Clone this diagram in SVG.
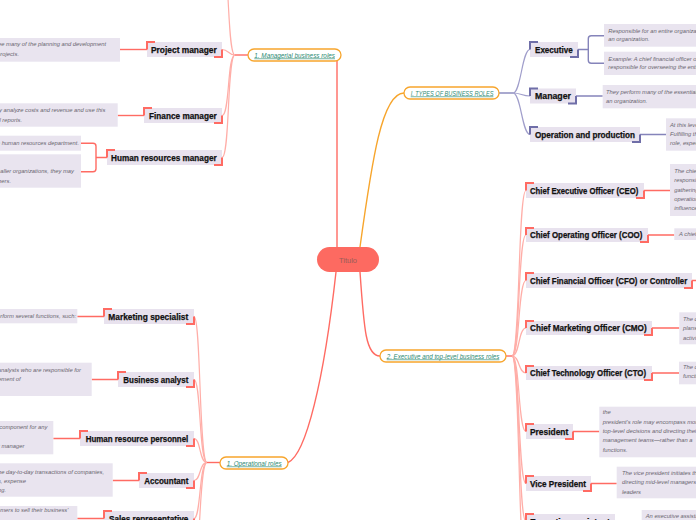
<svg xmlns="http://www.w3.org/2000/svg" width="696" height="520" viewBox="0 0 696 520">
<style>
.nb{fill:#e8e2ee}
.db{fill:#e9e4ef}
.nt{font-family:"Liberation Sans",Arial,sans-serif;font-weight:700;font-size:8.4px;fill:#111;stroke:#111;stroke-width:0.25}
.dt{font-family:"Liberation Sans",Arial,sans-serif;font-style:italic;font-size:5.8px;fill:#6a6670}
.dte{font-family:"Liberation Sans",Arial,sans-serif;font-style:italic;font-size:5.8px;fill:#6a6670;text-anchor:end}
.br{fill:none;stroke:#ff6b63;stroke-width:2}
.bp{fill:none;stroke:#6f6ea8;stroke-width:2}
.fr{fill:none;stroke:#ffaea8;stroke-width:1.2}
.fp{fill:none;stroke:#a09ecb;stroke-width:1.2}
.lr{fill:none;stroke:#ff6b63;stroke-width:1.4}
.lp{fill:none;stroke:#8584ba;stroke-width:1.4}
.lo{fill:none;stroke:#f7a52c;stroke-width:1.4}
.pill{fill:#fff;stroke:#f7a52c;stroke-width:1.3}
.pt{font-family:"Liberation Sans",Arial,sans-serif;font-style:italic;font-size:6.5px;fill:#2e8b74;text-decoration:underline}
</style>
<rect width="696" height="520" fill="#fff"/>
<g id="connectors">
<path class="lr" d="M337,247 V61"/>
<path class="lo" d="M360,247 C372,160 382,93 404,93"/>
<path class="lr" d="M336,272 C324,380 306,455 288,462.5"/>
<path class="lr" d="M360,272 C364,330 366,356 380,356"/>
<path class="lr" d="M248,55 H235"/>
<path class="fr" d="M235,55 C228,55 229,49.5 222,49.5"/>
<path class="fr" d="M235,55 C227,55 230,115.5 222,115.5"/>
<path class="fr" d="M235,55 C227,55 230,157.5 222,157.5"/>
<path class="fr" d="M235,55 C227,55 230,-40 222,-40"/>
<path class="lr" d="M120,49.5 H147"/>
<path class="lr" d="M117.7,115.5 H144"/>
<path class="lr" d="M81,143.3 H93 Q96,143.3 96,146.3 V168.7 Q96,171.7 93,171.7 H81 M96,157.5 H107"/>
<path class="lr" d="M220,462.5 H207"/>
<path class="fr" d="M207,462.5 C199,462.5 201,316.5 194,316.5"/>
<path class="fr" d="M207,462.5 C199,462.5 201,379.5 194,379.5"/>
<path class="fr" d="M207,462.5 C199,462.5 201,438.5 194,438.5"/>
<path class="fr" d="M207,462.5 C199,462.5 201,480.5 194,480.5"/>
<path class="fr" d="M207,462.5 C199,462.5 201,518.5 194,518.5"/>
<path class="fr" d="M207,462.5 C199,462.5 201,560 194,560"/>
<path class="lr" d="M77.3,316.5 H104 M91.7,379.5 H118 M53.3,438.5 H80 M112.7,480.5 H139 M77.3,518.5 H104"/>
<path class="lr" d="M506,356 H512"/>
<path class="fr" d="M512,356 C520,356 518,190.5 526,190.5"/>
<path class="fr" d="M512,356 C520,356 518,235 526,235"/>
<path class="fr" d="M512,356 C520,356 518,280.5 526,280.5"/>
<path class="fr" d="M512,356 C520,356 518,328 526,328"/>
<path class="fr" d="M512,356 C520,356 518,373 526,373"/>
<path class="fr" d="M512,356 C520,356 518,431.5 526,431.5"/>
<path class="fr" d="M512,356 C520,356 518,483.5 526,483.5"/>
<path class="fr" d="M512,356 C520,356 518,521.5 526,521.5"/>
<path class="fr" d="M512,356 C520,356 518,570 526,570"/>
<path class="lr" d="M644,190.5 H670 M648,235 H674.3 M692,280.5 H700 M652,328 H679.3 M652,373 H679 M573,431.5 H599.3 M591,483.5 H616.7 M615,521.5 H641.7"/>
<path class="lp" d="M499,93 H513"/>
<path class="fp" d="M513,93 C521,93 522,49.5 530,49.5"/>
<path class="fp" d="M513,93 C521,93 522,96 530,96"/>
<path class="fp" d="M513,93 C521,93 522,134.5 530,134.5"/>
<path class="lp" d="M578,49.5 H588.3 M604,35.7 H591.3 Q588.3,35.7 588.3,38.7 V60.3 Q588.3,63.3 591.3,63.3 H604"/>
<path class="lp" d="M576,96 H602.7 M640,134.5 H666"/>
</g>
<g id="titulo">
<rect x="317" y="247" width="62" height="25" rx="12.5" fill="#fd6a61"/>
<text x="348" y="262.5" text-anchor="middle" font-family="'Liberation Sans',Arial,sans-serif" font-size="7.5" fill="#9a5c58">Titulo</text>
</g>
<g id="managerial">
<rect class="pill" x="248" y="49" width="93" height="12" rx="6"/>
<text class="pt" x="254.3" y="57.5" textLength="80.7" lengthAdjust="spacingAndGlyphs">1.  Managerial business roles</text>
</g>
<g id="types">
<rect class="pill" x="404" y="87" width="95" height="12" rx="6"/>
<text class="pt" x="410.7" y="95.5" textLength="82.7" lengthAdjust="spacingAndGlyphs">I.  TYPES OF BUSINESS ROLES</text>
</g>
<g id="operational">
<rect class="pill" x="220" y="457" width="68" height="12" rx="6"/>
<text class="pt" x="226.7" y="465.5" textLength="55" lengthAdjust="spacingAndGlyphs">1.  Operational roles</text>
</g>
<g id="executive-roles">
<rect class="pill" x="380" y="350" width="126" height="12" rx="6"/>
<text class="pt" x="386.7" y="358.5" textLength="112.7" lengthAdjust="spacingAndGlyphs">2.  Executive and top-level business roles</text>
</g>
<g id="project-manager">
<rect class="nb" x="147" y="42" width="75" height="15"/>
<text class="nt" x="151" y="52.5" textLength="65.7" lengthAdjust="spacingAndGlyphs">Project manager</text>
<path class="br" d="M147,49.5 V42 H155 M222,49.5 V57 H214"/>
</g>
<g id="project-manager-note">
<rect class="db" x="-10" y="38" width="130" height="23.7"/>
<text class="dte" x="106" y="46">Project managers oversee many of the planning and development</text>
<text class="dte" x="19" y="56">tasks for projects.</text>
</g>
<g id="finance-manager">
<rect class="nb" x="144" y="108" width="78" height="15"/>
<text class="nt" x="149" y="118.5" textLength="67.7" lengthAdjust="spacingAndGlyphs">Finance manager</text>
<path class="br" d="M144,115.5 V108 H152 M222,115.5 V123 H214"/>
</g>
<g id="finance-manager-note">
<rect class="db" x="-10" y="103.3" width="127.7" height="23.4"/>
<text class="dte" x="105.3" y="112">Finance managers typically analyze costs and revenue and use this</text>
<text class="dte" x="22" y="122">data to create financial reports.</text>
</g>
<g id="hr-manager">
<rect class="nb" x="107" y="150" width="115" height="15"/>
<text class="nt" x="111" y="160.5" textLength="105.7" lengthAdjust="spacingAndGlyphs">Human resources manager</text>
<path class="br" d="M107,157.5 V150 H115 M222,157.5 V165 H214"/>
</g>
<g id="hr-manager-note-1">
<rect class="db" x="-10" y="135.7" width="91" height="15"/>
<text class="dte" x="79" y="145">They lead the human resources department.</text>
</g>
<g id="hr-manager-note-2">
<rect class="db" x="-10" y="154.3" width="91" height="33.4"/>
<text class="dte" x="74" y="173">In smaller organizations, they may</text>
<text class="dte" x="11" y="183">and work with others.</text>
</g>
<g id="marketing-specialist">
<rect class="nb" x="104" y="309" width="90" height="15"/>
<text class="nt" x="108.3" y="319.5" textLength="80" lengthAdjust="spacingAndGlyphs">Marketing specialist</text>
<path class="br" d="M104,316.5 V309 H112 M194,316.5 V324 H186"/>
</g>
<g id="marketing-specialist-note">
<rect class="db" x="-10" y="309" width="87.3" height="14.3"/>
<text class="dte" x="76" y="317.5">Marketing specialists perform several functions, such:</text>
</g>
<g id="business-analyst">
<rect class="nb" x="118" y="372" width="76" height="15"/>
<text class="nt" x="123.3" y="382.5" textLength="65" lengthAdjust="spacingAndGlyphs">Business analyst</text>
<path class="br" d="M118,379.5 V372 H126 M194,379.5 V387 H186"/>
</g>
<g id="business-analyst-note">
<rect class="db" x="-10" y="362.7" width="101.7" height="33.3"/>
<text class="dte" x="81" y="372">Business analysts are analysts who are responsible for</text>
<text class="dte" x="20.7" y="381.3">the improvement of</text>
</g>
<g id="hr-personnel">
<rect class="nb" x="80" y="431" width="114" height="15"/>
<text class="nt" x="85.7" y="441.5" textLength="102.6" lengthAdjust="spacingAndGlyphs">Human resource personnel</text>
<path class="br" d="M80,438.5 V431 H88 M194,438.5 V446 H186"/>
</g>
<g id="hr-personnel-note">
<rect class="db" x="-10" y="421" width="63.3" height="33.3"/>
<text class="dte" x="47.3" y="428.7">Human resources is an important component for any</text>
<text class="dte" x="24.3" y="448">a human resources department manager</text>
</g>
<g id="accountant">
<rect class="nb" x="139" y="473" width="55" height="15"/>
<text class="nt" x="144.3" y="483.5" textLength="44" lengthAdjust="spacingAndGlyphs">Accountant</text>
<path class="br" d="M139,480.5 V473 H147 M194,480.5 V488 H186"/>
</g>
<g id="accountant-note">
<rect class="db" x="-10" y="463.3" width="122.7" height="33.4"/>
<text class="dte" x="104" y="473.7">Accountants handle the day-to-day transactions of companies,</text>
<text class="dte" x="26" y="482.7">such as payroll, taxes, expense</text>
<text class="dte" x="6" y="492">reports and bookkeeping.</text>
</g>
<g id="sales-representative">
<rect class="nb" x="104" y="511" width="90" height="15"/>
<text class="nt" x="109" y="521.5" textLength="79.3" lengthAdjust="spacingAndGlyphs">Sales representative</text>
<path class="br" d="M104,518.5 V511 H112 M194,518.5 V526 H186"/>
</g>
<g id="sales-representative-note">
<rect class="db" x="-10" y="506" width="87.3" height="30"/>
<text class="dte" x="68.3" y="512">Sales reps work with customers to sell their business'</text>
</g>
<g id="executive">
<rect class="nb" x="530" y="42" width="48" height="15"/>
<text class="nt" x="535" y="52.5" textLength="37.7" lengthAdjust="spacingAndGlyphs">Executive</text>
<path class="bp" d="M530,49.5 V42 H538 M578,49.5 V57 H570"/>
</g>
<g id="executive-note-1">
<rect class="db" x="604" y="24" width="100" height="22.7"/>
<text class="dt" x="608.3" y="32.7">Responsible for an entire organization or a major part of</text>
<text class="dt" x="608.3" y="41.3">an organization.</text>
</g>
<g id="executive-note-2">
<rect class="db" x="604" y="51.7" width="100" height="23.3"/>
<text class="dt" x="608.3" y="61">Example: A chief financial officer or CFO is</text>
<text class="dt" x="608.3" y="68.7">responsible for overseeing the entire financial</text>
</g>
<g id="manager">
<rect class="nb" x="530" y="88.5" width="46" height="15"/>
<text class="nt" x="535" y="99" textLength="36" lengthAdjust="spacingAndGlyphs">Manager</text>
<path class="bp" d="M530,96 V88.5 H538 M576,96 V103.5 H568"/>
</g>
<g id="manager-note">
<rect class="db" x="602.7" y="85" width="100" height="23.3"/>
<text class="dt" x="606" y="93.7">They perform many of the essential tasks for</text>
<text class="dt" x="606" y="102.7">an organization.</text>
</g>
<g id="operation-production">
<rect class="nb" x="530" y="127" width="110" height="15"/>
<text class="nt" x="535" y="137.5" textLength="100" lengthAdjust="spacingAndGlyphs">Operation and production</text>
<path class="bp" d="M530,134.5 V127 H538 M640,134.5 V142 H632"/>
</g>
<g id="operation-production-note">
<rect class="db" x="666" y="118.3" width="40" height="32.4"/>
<text class="dt" x="670" y="127">At this level, employees are</text>
<text class="dt" x="670" y="136">Fulfilling the tasks of their</text>
<text class="dt" x="670" y="145.3">role, especially</text>
</g>
<g id="ceo">
<rect class="nb" x="526" y="183" width="118" height="15"/>
<text class="nt" x="530" y="193.5" textLength="108.3" lengthAdjust="spacingAndGlyphs">Chief Executive Officer (CEO)</text>
<path class="br" d="M526,190.5 V183 H534 M644,190.5 V198 H636"/>
</g>
<g id="ceo-note">
<rect class="db" x="670" y="164" width="40" height="52"/>
<text class="dt" x="674.3" y="173">The chief executive officer is</text>
<text class="dt" x="674.3" y="182">responsible for</text>
<text class="dt" x="674.3" y="191.7">gathering information</text>
<text class="dt" x="674.3" y="201">operations of the company</text>
<text class="dt" x="674.3" y="210">influence</text>
</g>
<g id="coo">
<rect class="nb" x="526" y="228" width="122" height="14"/>
<text class="nt" x="530" y="238" textLength="112.3" lengthAdjust="spacingAndGlyphs">Chief Operating Officer (COO)</text>
<path class="br" d="M526,235 V228 H534 M648,235 V242 H640"/>
</g>
<g id="coo-note">
<rect class="db" x="674.3" y="228.3" width="30" height="11.7"/>
<text class="dt" x="679" y="236.3">A chief operating officer</text>
</g>
<g id="cfo">
<rect class="nb" x="526" y="273" width="166" height="15"/>
<text class="nt" x="530" y="283.5" textLength="157.3" lengthAdjust="spacingAndGlyphs">Chief Financial Officer (CFO) or Controller</text>
<path class="br" d="M526,280.5 V273 H534 M692,280.5 V288 H684"/>
</g>
<g id="cmo">
<rect class="nb" x="526" y="321" width="126" height="14"/>
<text class="nt" x="530" y="331" textLength="116.7" lengthAdjust="spacingAndGlyphs">Chief Marketing Officer (CMO)</text>
<path class="br" d="M526,328 V321 H534 M652,328 V335 H644"/>
</g>
<g id="cmo-note">
<rect class="db" x="679.3" y="312.3" width="30" height="32"/>
<text class="dt" x="683" y="321">The director</text>
<text class="dt" x="683" y="330">plans</text>
<text class="dt" x="683" y="339.7">activities</text>
</g>
<g id="cto">
<rect class="nb" x="526" y="366" width="126" height="14"/>
<text class="nt" x="530" y="376" textLength="116" lengthAdjust="spacingAndGlyphs">Chief Technology Officer (CTO)</text>
<path class="br" d="M526,373 V366 H534 M652,373 V380 H644"/>
</g>
<g id="cto-note">
<rect class="db" x="679" y="361.7" width="30" height="22.6"/>
<text class="dt" x="683" y="369.3">The chief technology</text>
<text class="dt" x="683" y="377.7">functions</text>
</g>
<g id="president">
<rect class="nb" x="526" y="424" width="47" height="15"/>
<text class="nt" x="530" y="434.5" textLength="38.3" lengthAdjust="spacingAndGlyphs">President</text>
<path class="br" d="M526,431.5 V424 H534 M573,431.5 V439 H565"/>
</g>
<g id="president-note">
<rect class="db" x="599.3" y="406.7" width="110" height="50.6"/>
<text class="dt" x="602.7" y="414.3">the</text>
<text class="dt" x="602.7" y="423.7">president's role may encompass more</text>
<text class="dt" x="602.7" y="433">top-level decisions and directing their</text>
<text class="dt" x="602.7" y="442.3">management teams—rather than a</text>
<text class="dt" x="602.7" y="451.7">functions.</text>
</g>
<g id="vice-president">
<rect class="nb" x="526" y="476" width="65" height="15"/>
<text class="nt" x="530" y="486.5" textLength="56" lengthAdjust="spacingAndGlyphs">Vice President</text>
<path class="br" d="M526,483.5 V476 H534 M591,483.5 V491 H583"/>
</g>
<g id="vice-president-note">
<rect class="db" x="616.7" y="466.7" width="90" height="31.6"/>
<text class="dt" x="622" y="475.3">The vice president initiates the</text>
<text class="dt" x="622" y="484.3">directing mid-level managers and</text>
<text class="dt" x="622" y="494.3">leaders</text>
</g>
<g id="executive-assistant">
<rect class="nb" x="526" y="514" width="89" height="15"/>
<text class="nt" x="530" y="524.5" textLength="80" lengthAdjust="spacingAndGlyphs">Executive assistant</text>
<path class="br" d="M526,521.5 V514 H534 M615,521.5 V529 H607"/>
</g>
<g id="executive-assistant-note">
<rect class="db" x="641.7" y="510" width="60" height="20"/>
<text class="dt" x="645.7" y="517.7">An executive assistant</text>
</g>
</svg>
